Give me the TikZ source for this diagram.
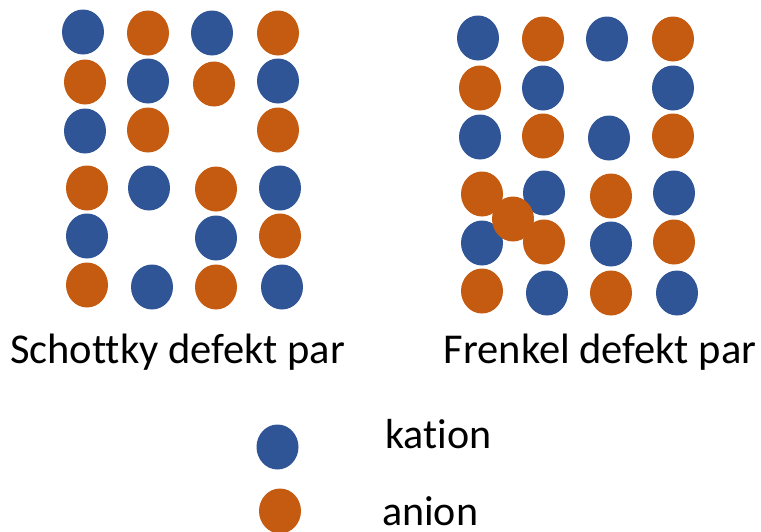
\documentclass[tikz,border=0pt]{standalone}
\usepackage{fontspec}
\setmainfont{Carlito}[Ligatures=NoCommon]
\usetikzlibrary{shapes.geometric}
\definecolor{kationblue}{HTML}{2F5597}
\definecolor{anionorange}{HTML}{C55A11}
\tikzset{
  ion/.style={ellipse, minimum width=42pt, minimum height=45pt, inner sep=0pt, draw=none},
  kat/.style={ion, fill=kationblue},
  ani/.style={ion, fill=anionorange},
  caption/.style={anchor=base, font=\fontsize{42.5}{50}\selectfont, inner sep=0pt},
  legendtext/.style={anchor=base west, font=\fontsize{42}{50}\selectfont, inner sep=0pt}
}
\begin{document}
\begin{tikzpicture}[x=1pt, y=-1pt]
\useasboundingbox (0,0) rectangle (761,531);

% Schottky lattice: one cation and one anion site left empty
\node[kat] (s11) at (83,32) {};
\node[ani] (s12) at (148,33) {};
\node[kat] (s13) at (212,33) {};
\node[ani] (s14) at (278,33) {};
\node[ani] (s21) at (85,82) {};
\node[kat] (s22) at (148,81) {};
\node[ani] (s23) at (214,84) {};
\node[kat] (s24) at (278,81) {};
\node[kat] (s31) at (85,131) {};
\node[ani] (s32) at (148,130) {};
\node[ani] (s34) at (278,130) {};
\node[ani] (s41) at (87,188) {};
\node[kat] (s42) at (149,188) {};
\node[ani] (s43) at (216,189) {};
\node[kat] (s44) at (280,188) {};
\node[kat] (s51) at (87,236) {};
\node[kat] (s53) at (216,238) {};
\node[ani] (s54) at (280,236) {};
\node[ani] (s61) at (87,285) {};
\node[kat] (s62) at (152,287) {};
\node[ani] (s63) at (216,287) {};
\node[kat] (s64) at (282,287) {};

% Frenkel lattice: one anion moved to an interstitial site
\node[kat] (f11) at (478,38) {};
\node[ani] (f12) at (543,39) {};
\node[kat] (f13) at (607,39) {};
\node[ani] (f14) at (673,39) {};
\node[ani] (f21) at (480,88) {};
\node[kat] (f22) at (543,88) {};
\node[kat] (f24) at (673,88) {};
\node[kat] (f31) at (480,137) {};
\node[ani] (f32) at (543,136) {};
\node[kat] (f33) at (609,138) {};
\node[ani] (f34) at (673,136) {};
\node[ani] (f41) at (482,194) {};
\node[kat] (f42) at (544,193) {};
\node[ani] (f43) at (611,196) {};
\node[kat] (f44) at (674,193) {};
\node[kat] (f51) at (482,243) {};
\node[ani] (f52) at (544,242) {};
\node[kat] (f53) at (611,244) {};
\node[ani] (f54) at (674,242) {};
\node[ani] (f61) at (482,291) {};
\node[kat] (f62) at (547,293) {};
\node[ani] (f63) at (611,293) {};
\node[kat] (f64) at (677,293) {};
\node[ani] (fint) at (513,219) {};

% captions
\node[caption] (schottky) at (177.5,363) {Schottky defekt par};
\node[caption] (frenkel) at (600,363) {Frenkel defekt par};

% legend
\node[kat] (legkat) at (277.5,447) {};
\node[ani] (legani) at (280,511) {};
\node[legendtext] (katlabel) at (385,448) {kation};
\node[legendtext] (anilabel) at (382,525) {anion};
\end{tikzpicture}
\end{document}
